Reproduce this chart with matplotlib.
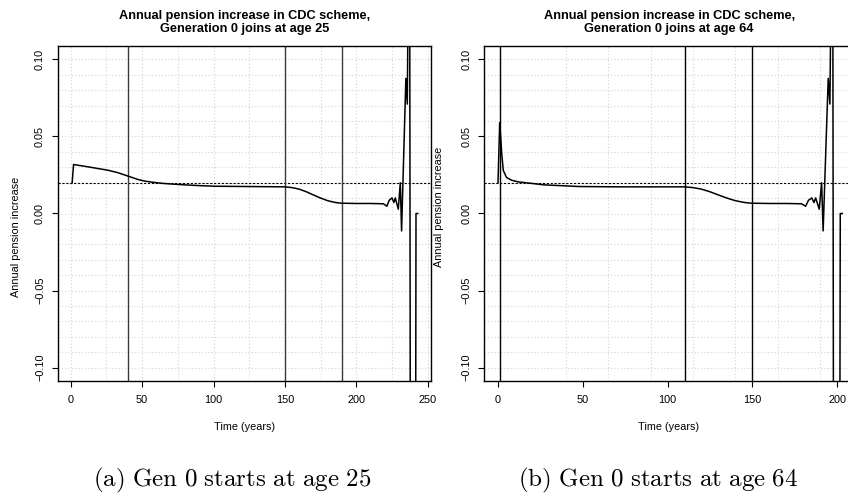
import matplotlib
matplotlib.use('Agg')
import matplotlib.pyplot as plt
import numpy as np

plt.rcParams['font.family'] = ['Liberation Sans', 'DejaVu Sans']
plt.rcParams['mathtext.fontset'] = 'cm'

# Panel (a): generation 0 joins at age 25
years_a = [1, 2, 12, 26, 33, 40, 47, 52, 58, 65, 76, 90, 101, 125, 150,
           155, 160, 165, 170, 175, 180, 185, 189, 200, 210, 219,
           221.4, 223, 225, 226.3, 227.3, 229.4, 230.8, 231.7, 234.7, 235.7,
           236.2, 237.2, 238, 241.3, 241.8, 243]
incr_a = [0.020, 0.0318, 0.0303, 0.0281, 0.0265, 0.0243, 0.0221, 0.0210, 0.0202, 0.0195,
          0.0188, 0.0181, 0.0177, 0.0175, 0.0173,
          0.0168, 0.0158, 0.0141, 0.0120, 0.0100, 0.0083, 0.0072, 0.0067, 0.0065, 0.0065, 0.0063,
          0.0047, 0.0085, 0.0101, 0.0071, 0.0101, 0.0028, 0.0200, -0.0113, 0.0877, 0.0710,
          0.13, 0.30, -0.30, -0.30, 0.0, 0.0]
vlines_a = [40, 150, 190]

# Panel (b): generation 0 joins at age 64
years_b = [0, 1, 2.2, 3.1, 5, 8, 12, 17, 27, 48, 72, 110,
           115, 120, 125, 130, 135, 140, 145, 149, 160, 170, 179,
           181.4, 183, 185, 186.3, 187.3, 189.4, 190.8, 191.7, 194.7, 195.7,
           196.2, 197.2, 198, 201.3, 201.8, 203]
incr_b = [0.020, 0.059, 0.039, 0.028, 0.0234, 0.0216, 0.0205, 0.0199, 0.0186, 0.0175, 0.0173, 0.0173,
          0.0168, 0.0158, 0.0141, 0.0120, 0.0100, 0.0083, 0.0072, 0.0067, 0.0065, 0.0065, 0.0063,
          0.0047, 0.0085, 0.0101, 0.0071, 0.0101, 0.0028, 0.0200, -0.0113, 0.0877, 0.0710,
          0.13, 0.30, -0.30, -0.30, 0.0, 0.0]
vlines_b = [1, 110, 150]

target = 0.02
titles = ['Annual pension increase in CDC scheme,\nGeneration 0 joins at age 25',
          'Annual pension increase in CDC scheme,\nGeneration 0 joins at age 64']
captions = [r'$\mathrm{(a)\ Gen\ 0\ starts\ at\ age\ 25}$',
            r'$\mathrm{(b)\ Gen\ 0\ starts\ at\ age\ 64}$']

W, H = 848, 494
fig = plt.figure(figsize=(W / 100, H / 100), dpi=100)


def px(x0, x1, y0, y1):
    # pixel box -> figure fraction rect
    return [x0 / W, 1 - y1 / H, (x1 - x0) / W, (y1 - y0) / H]


def panel(rect, years, incr, vlines, vcol, xlim, xticks, xgrid, title):
    ax = fig.add_axes(rect)
    ax.set_xlim(*xlim)
    ax.set_ylim(-0.1087, 0.1087)
    for g in xgrid:
        ax.axvline(g, color='#d3d3d3', lw=0.8, ls=(0, (1, 2)), zorder=0)
    for g in np.arange(-0.10, 0.1001, 0.01):
        ax.axhline(g, color='#d3d3d3', lw=0.8, ls=(0, (1, 2)), zorder=0)
    ax.plot(years, incr, color='black', lw=1.1, zorder=3)
    ax.axhline(target, color='black', lw=0.8, ls=(0, (2, 1.5)), zorder=2)
    for v in vlines:
        ax.axvline(v, color=vcol, lw=1.0, zorder=2)
    ax.set_xticks(xticks)
    ax.set_yticks([-0.10, -0.05, 0.0, 0.05, 0.10])
    ax.set_yticklabels(['\u22120.10', '\u22120.05', '0.00', '0.05', '0.10'])
    ax.tick_params(direction='out', length=4.3, width=0.8, labelsize=7.8, pad=6)
    ax.tick_params(axis='y', labelrotation=90, pad=5)
    for lab in ax.get_yticklabels():
        lab.set_va('center')
    for s in ax.spines.values():
        s.set_linewidth(1.0)
    ax.set_title(title, fontsize=9.2, fontweight='bold', pad=10, linespacing=1.1)
    return ax


panel(px(58, 431, 46, 381), years_a, incr_a, vlines_a, '#3a3a3a', (-8.9, 252.3),
      [0, 50, 100, 150, 200, 250], np.arange(0, 251, 25), titles[0])
panel(px(484.3, 854, 46, 381), years_b, incr_b, vlines_b, 'black', (-8.08, 209.9),
      [0, 50, 100, 150, 200], np.arange(40, 200, 25), titles[1])

# axis labels
fig.text(244.5 / W, 1 - 427 / H, 'Time (years)', ha='center', va='center', fontsize=7.8)
fig.text(669 / W, 1 - 427 / H, 'Time (years)', ha='center', va='center', fontsize=7.8)
fig.text(16 / W, 1 - 237 / H, 'Annual pension increase', rotation=90,
         ha='center', va='center', fontsize=7.8)
fig.text(439 / W, 1 - 207 / H, 'Annual pension increase', rotation=90,
         ha='center', va='center', fontsize=7.8)

# captions
fig.text(232 / W, 1 - 480 / H, captions[0], ha='center', va='center', fontsize=18)
fig.text(658 / W, 1 - 480 / H, captions[1], ha='center', va='center', fontsize=18)

fig.savefig('out.png', dpi=100)
